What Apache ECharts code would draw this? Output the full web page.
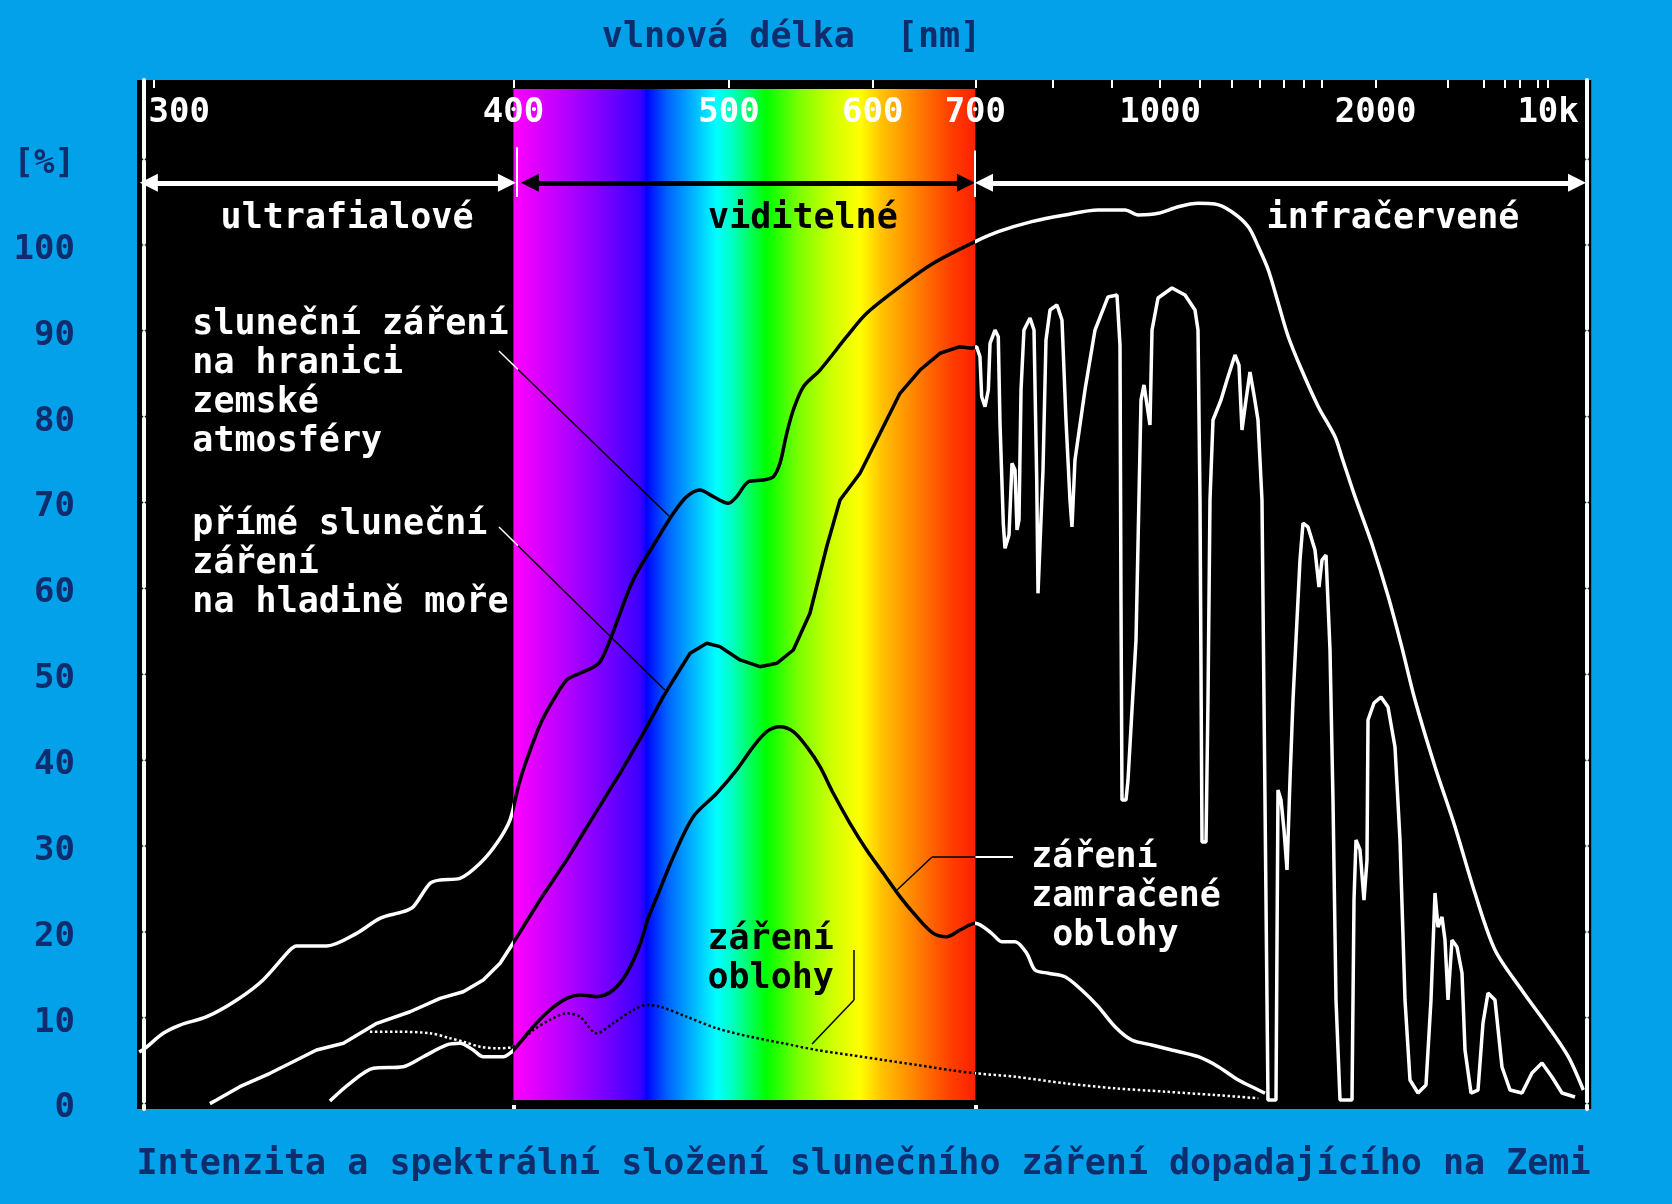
<!DOCTYPE html>
<html><head><meta charset="utf-8">
<script src="https://cdn.jsdelivr.net/npm/echarts/dist/echarts.min.js"></script>
<style>html,body{margin:0;padding:0;background:#03a1ea;}#c{width:1672px;height:1204px;}</style>
</head><body><div id="c"></div>
<script>
const FONT = 'DejaVu Sans Mono';
// axis ticks / labels (wavelength in nm, intensity in %)
const xLabelNm = [300, 400, 500, 600, 700, 1000, 2000, 10000];
const xTickNm = [300, 400, 500, 600, 700, 800, 900, 1000, 1100, 1200, 1300, 1400, 1500, 1600, 2000, 3000, 4000, 5000, 6000, 8000, 10000];
const yTicks = [0, 10, 20, 30, 40, 50, 60, 70, 80, 90, 100, 110];

// series: [wavelength nm, intensity %]
const extraterrestrial = [
[296.9,6.0],[298.1,6.44],[301.9,8.19],[305.5,9.15],[311.4,10.12],[318.3,12.07],[324.6,14.40],[331.3,17.89],[333.0,18.36],[340.9,18.36],
[349.2,19.83],[355.9,21.58],[362.9,22.35],[366.0,22.93],[371.3,25.66],[374.5,26.04],[381.1,26.24],[388.0,27.99],[393.9,30.32],[398.7,33.03],
[401.8,36.91],[404.3,39.44],[410.1,44.10],[415.4,47.01],[420.8,49.34],[426.3,50.12],[431.4,50.73],[434.9,51.43],[439.4,54.00],[450.0,60.98],
[461.3,65.64],[469.7,68.75],[476.6,70.69],[483.7,71.47],[491.1,70.69],[499.6,69.92],[504.5,70.69],[511.5,72.43],[520.7,72.63],[527.1,73.02],
[531.4,74.58],[535.9,78.07],[540.3,80.78],[547.2,83.50],[559.0,85.44],[579.0,89.32],[595.0,92.05],[623.7,95.15],[655.3,97.87],[700,100.4],
[727.1,101.55],[770.5,102.72],[819.3,103.50],[874.6,104.08],[924.7,104.08],[951.9,103.50],[995.8,103.69],[1044.1,104.46],[1097.2,104.86],[1145.9,104.78],
[1199.2,103.88],[1257.2,102.13],[1295.0,99.80],[1335.1,97.09],[1377.7,93.21],[1423.2,89.32],[1489.1,85.44],[1579.7,81.17],[1682.7,77.67],[1727.9,75.34],
[1825.1,70.69],[1964.0,65.26],[2124.7,59.04],[2274.9,53.22],[2446.7,47.01],[2760,39.24],[3165,32.25],[3710,24.49],[4481,17.89],[6203,13.23],
[10049,8.96],[18825,5.46],[54570,1.58]
];
const directSeaLevel = [
[312.1,0],[313.6,0.42],[319.0,1.97],[326.3,3.53],[333.0,5.08],[338.2,6.24],[345.5,7.02],[355.0,9.35],[365.0,10.70],[374.5,12.26],
[382.2,13.03],[389.1,14.40],[395.1,16.34],[400.6,19.05],[410.1,23.71],[420.8,28.37],[432.0,33.42],[443.9,38.47],[454.8,43.13],[464.6,47.39],
[469.7,49.34],[478.4,52.45],[487.4,53.61],[494.8,53.22],[506.5,51.67],[518.6,50.89],[529.3,51.28],[540.3,52.83],[551.8,57.11],[563.9,64.86],
[573.9,70.30],[589.6,73.41],[606.2,78.07],[623.7,82.73],[642.3,85.44],[662.0,87.39],[683.0,88.16],[695.9,87.97],[701.5,88.16],[705.3,86.99],
[707.3,82.33],[711.2,81.17],[715.1,83.11],[717.1,88.55],[723.1,90.10],[727.1,89.32],[729.2,79.24],[733.3,67.59],[735.4,64.68],[740.5,66.23],
[744.3,74.58],[748.2,73.80],[750.8,66.81],[753.4,67.97],[756.1,83.11],[760.0,90.10],[768.2,91.50],[773.7,90.10],[777.5,72.63],[779.3,59.43],
[782.1,59.47],[786.4,73.80],[790.7,88.94],[796.6,92.43],[807.0,93.01],[814.6,91.27],[820.8,79.62],[827.1,70.30],[830.3,67.16],[835.1,74.96],
[851.6,83.11],[868.8,90.10],[892.2,93.95],[909.1,94.18],[914.9,88.35],[916.8,58.65],[918.8,35.36],[926.7,35.36],[930.7,37.69],[947.1,54.00],
[957.6,81.95],[964.0,83.70],[977.1,79.04],[981.6,90.10],[995.2,93.83],[1028.4,94.99],[1061.3,94.18],[1088.1,92.43],[1096.4,90.10],[1102.0,70.30],
[1107.7,30.47],[1119.2,30.47],[1125.0,47.01],[1130.9,70.30],[1139.9,79.62],[1164.5,81.95],[1183.7,84.28],[1210.3,87.19],[1224.0,86.02],[1234.5,78.46],
[1248.8,81.95],[1263.5,85.21],[1278.5,82.53],[1293.8,79.62],[1309.5,70.30],[1317.5,47.01],[1325.6,23.71],[1333.8,0.42],[1367.7,0.42],[1376.4,36.53],
[1389.8,35.36],[1403.3,31.87],[1417.2,27.21],[1431.3,37.69],[1445.7,47.01],[1465.3,56.33],[1480.4,63.31],[1495.8,67.62],[1522.2,67.16],[1560.8,64.48],
[1583.8,60.17],[1601.4,63.31],[1625.6,63.90],[1650.5,52.83],[1669.6,35.36],[1689.3,12.07],[1716.2,0.42],[1802.3,0.42],[1817.5,23.71],[1832.9,30.70],
[1864.6,29.54],[1897.4,23.71],[1922.8,28.37],[1931.5,44.68],[1984.8,46.66],[2050.9,47.36],[2121.6,46.19],[2197.2,41.53],[2254.7,30.70],[2315.3,12.07],
[2379.1,2.75],[2489.0,1.23],[2609.6,2.17],[2691.0,12.07],[2760.0,24.53],[2814.0,20.57],[2889.4,21.73],[2948.7,19.05],[3010.5,12.07],[3097.0,19.05],
[3212.4,18.24],[3336.7,15.21],[3416.0,6.24],[3586.5,1.23],[3808.3,1.58],[3984.3,9.39],[4177.3,12.88],[4481.3,12.07],[4833.0,4.26],[5309.1,1.58],
[6229.8,1.23],[7282.1,3.56],[8762.2,4.73],[10997,3.10],[14764,1.23],[26611,0.77]
];
const cloudySky = [
[341.8,0.3],[347.3,2.36],[354.0,4.11],[362.9,4.30],[369.1,5.46],[376.7,6.83],[381.1,7.02],[385.6,6.24],[389.1,5.46],[396.3,5.46],
[399.4,6.04],[401.2,6.63],[407.5,8.96],[414.0,10.90],[420.8,12.26],[426.3,12.65],[433.5,12.45],[440.8,13.23],[447.0,15.18],[453.2,18.5],
[457.0,21.5],[461.3,24.0],[469.7,28.76],[480.1,33.42],[493.0,36.14],[504.5,38.86],[514.5,41.57],[522.9,43.32],[531.4,43.90],[540.3,43.32],
[549.5,41.57],[559.0,39.24],[568.8,36.14],[581.6,32.65],[595.0,29.54],[609.0,26.82],[623.7,24.10],[639.1,21.77],[655.3,19.83],[668.9,19.44],
[683.0,20.22],[700,21.0],[719.1,19.83],[731.3,18.86],[748.2,18.86],[763.7,17.51],[775.1,15.56],[794.1,15.18],[819.3,14.78],[846.1,13.23],
[874.6,11.29],[905.3,8.96],[938.2,7.41],[980.9,6.83],[1027.7,6.24],[1097.2,5.46],[1156.1,4.30],[1221.6,2.75],[1282.3,1.78],[1321.6,1.20]
];
const skyDiffuse = [
[353.0,8.37],[360.9,8.37],[371.3,8.19],[377.8,7.61],[382.2,7.21],[388.0,6.63],[393.9,6.44],[399.9,6.63],[407.5,8.57],[414.0,9.74],
[420.8,10.52],[426.3,10.12],[433.5,8.19],[440.8,9.35],[450.0,10.90],[456.4,11.48],[463.0,11.29],[476.6,10.12],[493.0,8.77],[512.5,7.79],
[533.6,7.02],[556.6,6.24],[581.6,5.66],[609.0,5.08],[639.1,4.50],[672.3,3.91],[700,3.53],[748.2,3.13],[819.3,2.36],[905.3,1.78],
[1011.5,1.39],[1145.9,1.00],[1295.0,0.62]
];

// wavelength -> wavenumber (1/um); the axis is linear in wavenumber, reversed
const toW = nm => 1000 / nm;
const pts = arr => arr.map(p => [toW(p[0]), p[1]]);
const W400 = toW(400), W700 = toW(700);
const Y_MIN = -0.63, Y_MAX = 119.22, X_MAX = 3.3732;

const spectrum = new echarts.graphic.LinearGradient(0, 0, 1, 0, [
  {offset:0, color:'#ff00ff'},{offset:0.115, color:'#b400ff'},{offset:0.209, color:'#7000ff'},
  {offset:0.274, color:'#3c00ff'},{offset:0.285, color:'#1a00ff'},{offset:0.287, color:'#0000ff'},
  {offset:0.332, color:'#0060ff'},{offset:0.375, color:'#00a0ff'},{offset:0.44, color:'#00ffff'},
  {offset:0.475, color:'#00ffc0'},{offset:0.548, color:'#00ff00'},{offset:0.621, color:'#80ff00'},
  {offset:0.692, color:'#d0ff00'},{offset:0.75, color:'#ffff00'},{offset:0.80, color:'#ffc000'},
  {offset:0.873, color:'#ff8000'},{offset:0.945, color:'#ff4000'},{offset:1, color:'#ff2000'}
]);

const WHITE = '#ffffff', BLACK = '#000000', NAVY = '#0f2c6c';
const seg = (a, b, color, width, sym) => {
  const ls = {color: color, width: width, type: 'solid'};
  const s = sym ? 'triangle' : 'none';
  return [{coord:[toW(a[0]), a[1]], symbol:s, symbolSize:18, lineStyle:ls},
          {coord:[toW(b[0]), b[1]], symbol:s, symbolSize:18, lineStyle:ls}];
};
const txt = (nm, pct, text, color, pos) => ({
  coord:[toW(nm), pct], symbol:'circle', symbolSize:1, itemStyle:{color:'rgba(0,0,0,0)'},
  label:{show:true, formatter:text, color:color, fontFamily:FONT, fontSize:35, fontWeight:'bold', lineHeight:39,
         position: pos || 'inside', align: pos ? 'left' : 'center', verticalAlign: pos ? 'top' : 'middle'}
});

const lineBase = (name, data, extra) => Object.assign({
  type:'line', name:name, data:pts(data), symbol:'none', showSymbol:false, silent:true, z:3,
  xAxisIndex:0, yAxisIndex:0, lineStyle:{width:3.5}
}, extra || {});

const option = {
  backgroundColor:'#03a1ea',
  animation:false,
  grid:{left:137, right:80.8, top:80, bottom:95, show:true, backgroundColor:'#000', borderWidth:0},
  xAxis:[{
    type:'value', position:'top', inverse:true, min:0, max:X_MAX, z:8,
    axisLine:{show:false, onZero:false}, splitLine:{show:false},
    axisTick:{show:true, inside:true, length:8, customValues:xTickNm.map(toW), lineStyle:{color:WHITE, width:2}},
    axisLabel:{show:true, inside:true, margin:33, verticalAlign:'middle', customValues:xLabelNm.map(toW),
      color:WHITE, fontFamily:FONT, fontSize:34, fontWeight:'bold',
      formatter: v => { const nm = Math.round(1000 / v); if (nm === 10000) return '10k'; if (nm === 300) return '{s|300}'; return String(nm); },
      rich:{s:{padding:[0,0,0,50], color:WHITE, fontFamily:FONT, fontSize:34, fontWeight:'bold'}}}
  },{
    type:'value', position:'bottom', inverse:true, min:0, max:X_MAX, z:8,
    axisLine:{show:false, onZero:false}, splitLine:{show:false}, axisLabel:{show:false},
    axisTick:{show:true, inside:true, length:4, customValues:[W400, W700], lineStyle:{color:WHITE, width:4}}
  }],
  yAxis:[{
    type:'value', position:'left', offset:-7, min:Y_MIN, max:Y_MAX,
    axisLine:{show:true, onZero:false, lineStyle:{color:WHITE, width:4, type:[81.86, 4], dashOffset:78.46}},
    axisTick:{show:false}, splitLine:{show:false},
    axisLabel:{customValues:yTicks, margin:69, color:NAVY, fontFamily:FONT, fontSize:34, fontWeight:'bold',
      formatter: v => '{n|' + (v === 110 ? '[%]' : String(v)) + '}',
      rich:{n:{padding:[10,0,0,0], color:NAVY, fontFamily:FONT, fontSize:34, fontWeight:'bold'}}}
  },{
    type:'value', position:'right', offset:-4, min:Y_MIN, max:Y_MAX,
    axisLine:{show:true, onZero:false, lineStyle:{color:WHITE, width:4, type:[81.86, 4], dashOffset:78.46}},
    axisTick:{show:false}, axisLabel:{show:false}, splitLine:{show:false}
  }],
  visualMap:[{type:'piecewise', show:false, dimension:0, seriesIndex:[0,1,2,3],
    pieces:[{gte:W700, lte:W400, color:BLACK}], outOfRange:{color:WHITE}}],
  series:[
    lineBase('sluneční záření na hranici zemské atmosféry', extraterrestrial, {smooth:0.3}),
    lineBase('přímé sluneční záření na hladině moře', directSeaLevel),
    lineBase('záření zamračené oblohy', cloudySky, {smooth:0.3}),
    lineBase('záření oblohy', skyDiffuse, {smooth:0.3, lineStyle:{width:2.5, type:'dotted'}}),
    {
      type:'line', name:'annotations', data:[], silent:true,
      markArea:{silent:true, itemStyle:{color:spectrum}, data:[[{xAxis:W400, yAxis:118.17},{xAxis:W700, yAxis:0.42}]]},
      markLine:{silent:true, animation:false, symbol:['none','none'], label:{show:false},
        data:[
          seg([298.9,107.25],[397.6,107.25], WHITE, 5, true),
          seg([406.2,107.25],[689.5,107.25], BLACK, 5, true),
          seg([710,107.25],[30359,107.25], WHITE, 5, true),
          seg([401.2,111.4],[401.2,105.6], WHITE, 2),
          seg([699.6,111.0],[699.6,105.6], WHITE, 2),
          seg([394.7,87.66],[401.7,85.51], WHITE, 1.5),
          seg([401.7,85.51],[468.0,68.32], BLACK, 1.5),
          seg([394.7,67.16],[401.7,64.98], WHITE, 1.5),
          seg([401.7,64.98],[465.4,48.17], BLACK, 1.5),
          seg([584.8,17.89],[584.8,12.07], BLACK, 1.5),
          seg([584.8,12.07],[553.3,6.94], BLACK, 1.5),
          seg([745.6,28.72],[700,28.72], WHITE, 2),
          seg([700,28.72],[654.0,28.72], BLACK, 1.5),
          seg([654.0,28.72],[621.0,24.88], BLACK, 1.5)
        ]},
      markPoint:{silent:true, animation:false,
        data:[
          txt(346.5, 103.0, 'ultrafialové', WHITE),
          txt(546.9, 103.0, 'viditelné', BLACK),
          txt(2175, 103.0, 'infračervené', WHITE),
          txt(308.3, 92.95, 'sluneční záření\nna hranici\nzemské\natmosféry', WHITE, [0,0]),
          txt(308.3, 69.66, 'přímé sluneční\nzáření\nna hladině moře', WHITE, [0,0]),
          txt(488.1, 21.33, 'záření\noblohy', BLACK, [0,0]),
          txt(770.5, 30.82, 'záření\nzamračené\n oblohy', WHITE, [0,0])
        ]}
    }
  ],
  graphic:[
    {type:'text', x:791.5, y:38, silent:true, style:{text:'vlnová délka  [nm]', fill:NAVY, font:'bold 35px "DejaVu Sans Mono"', align:'center', verticalAlign:'middle'}},
    {type:'text', x:863.5, y:1165, silent:true, style:{text:'Intenzita a spektrální složení slunečního záření dopadajícího na Zemi', fill:NAVY, font:'bold 35px "DejaVu Sans Mono"', align:'center', verticalAlign:'middle'}}
  ]
};
const chart = echarts.init(document.getElementById('c'));
chart.setOption(option);
</script></body></html>
